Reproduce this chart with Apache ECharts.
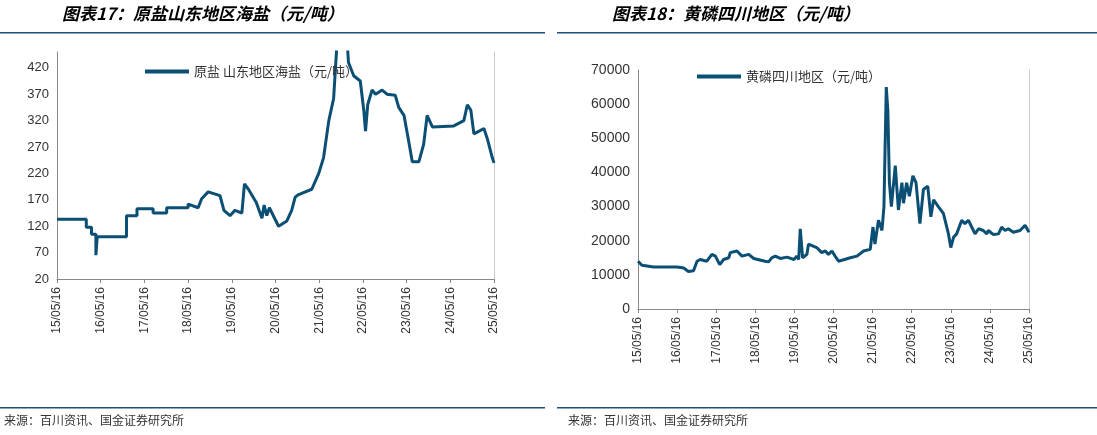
<!DOCTYPE html>
<html>
<head>
<meta charset="utf-8">
<script src="https://cdn.jsdelivr.net/npm/echarts@6/dist/echarts.min.js"></script>
<style>
  html, body { margin: 0; padding: 0; background: #fff; }
  #main { width: 1097px; height: 435px; }
</style>
</head>
<body>
<div id="main"></div>
<script>
// 原盐 山东地区海盐 (年份偏移, 元/吨)
const saltT = [0, 0.67, 0.67, 0.79, 0.79, 0.89, 0.89, 0.92, 1.59, 1.59, 1.83, 1.83, 2.20, 2.20, 2.51, 2.51, 3.00, 3.00, 3.23, 3.31, 3.46, 3.73, 3.82, 3.96, 4.07, 4.23, 4.29, 4.38, 4.56, 4.69, 4.74, 4.80, 4.86, 5.07, 5.26, 5.37, 5.45, 5.53, 5.83, 5.99, 6.10, 6.22, 6.33, 6.41, 6.64, 6.67, 6.79, 6.94, 7.02, 7.06, 7.11, 7.21, 7.29, 7.44, 7.55, 7.74, 7.82, 7.94, 8.05, 8.13, 8.28, 8.39, 8.47, 8.59, 9.08, 9.31, 9.39, 9.47, 9.54, 9.66, 9.77, 9.85, 9.96, 10]
const saltV = [133, 133, 118, 118, 105, 105, 65, 100, 100, 140, 140, 153, 153, 145, 145, 155, 155, 162, 155, 172, 185, 178, 150, 140, 150, 145, 200, 190, 165, 135, 160, 140, 155, 120, 130, 150, 175, 180, 190, 220, 250, 320, 362, 470, 470, 430, 405, 395, 340, 300, 350, 378, 370, 378, 370, 368, 345, 330, 280, 242, 242, 275, 330, 308, 310, 320, 350, 340, 295, 300, 305, 285, 250, 240]
// 黄磷 四川地区
const pT = [0, 0.10, 0.40, 1.00, 1.17, 1.29, 1.42, 1.51, 1.59, 1.76, 1.89, 1.98, 2.09, 2.19, 2.32, 2.36, 2.53, 2.66, 2.83, 2.96, 3.25, 3.34, 3.42, 3.51, 3.64, 3.81, 3.99, 4.06, 4.11, 4.15, 4.21, 4.32, 4.36, 4.57, 4.70, 4.79, 4.87, 4.96, 5.04, 5.13, 5.43, 5.60, 5.77, 5.94, 6.01, 6.06, 6.15, 6.24, 6.29, 6.35, 6.39, 6.43, 6.48, 6.58, 6.66, 6.75, 6.79, 6.87, 6.94, 7.03, 7.11, 7.21, 7.30, 7.41, 7.49, 7.56, 7.68, 7.81, 7.94, 8.00, 8.07, 8.15, 8.28, 8.36, 8.45, 8.62, 8.71, 8.83, 8.92, 8.96, 9.09, 9.22, 9.30, 9.39, 9.47, 9.60, 9.77, 9.90, 10]
const pV = [14000, 12800, 12300, 12300, 12000, 11000, 11200, 14000, 14500, 14000, 16000, 15500, 13000, 14500, 15000, 16500, 17000, 15500, 16000, 14800, 14000, 13800, 15000, 15500, 14800, 15200, 14500, 15500, 14500, 23500, 15000, 16000, 19000, 18000, 16500, 17000, 16000, 17000, 15500, 14000, 15000, 15500, 17000, 17500, 24000, 19000, 26000, 23000, 30000, 65000, 58000, 37000, 30000, 42000, 29000, 37000, 31000, 37000, 33000, 39000, 37000, 25000, 35000, 36000, 27000, 32000, 30000, 28000, 22000, 18000, 21000, 22000, 26000, 25000, 26000, 22000, 23500, 23000, 22000, 23000, 21800, 22000, 24000, 23000, 23500, 22500, 23000, 24500, 22500]
const saltTicks = [20, 70, 120, 170, 220, 270, 320, 370, 420]
const yearLabels = ['15', '16', '17', '18', '19', '20', '21', '22', '23', '24', '25']

const blue = '#0b4f75'
const chart = echarts.init(document.getElementById('main'))

function xAx(idx) {
  return {
    type: 'value', gridIndex: idx, min: 0, max: 10, interval: 1,
    axisLine: {lineStyle: {color: '#888'}},
    axisTick: {show: true, inside: false, length: 4, lineStyle: {color: '#888'}},
    splitLine: {show: false},
    axisLabel: {rotate: 90, color: '#333', fontSize: 12, fontFamily: 'Liberation Sans',
      formatter: v => yearLabels[v] + '/05/16'}
  }
}
function rightAx(idx) {
  return {type: 'value', gridIndex: idx, position: 'right', axisLine: {show: true, lineStyle: {color: '#ccc'}},
    axisTick: {show: false}, axisLabel: {show: false}, splitLine: {show: false}}
}
const legendText = {color: '#333', fontSize: 13, fontFamily: 'Noto Sans CJK SC'}

let option = {
  backgroundColor: '#fff',
  animation: false,
  grid: [
    {left: 57, right: 603, top: 52, bottom: 156},
    {left: 638, right: 68, top: 70, bottom: 126}
  ],
  legend: [
    {data: ['原盐 山东地区海盐（元/吨）'], left: 140, top: 60, icon: 'rect', itemWidth: 44, itemHeight: 4,
      itemGap: 4, textStyle: legendText},
    {data: ['黄磷四川地区（元/吨）'], left: 692, top: 65, icon: 'rect', itemWidth: 44, itemHeight: 4,
      textStyle: legendText}
  ],
  xAxis: [xAx(0), xAx(1)],
  yAxis: [
    {type: 'value', gridIndex: 0, min: 20, max: 450,
      axisLine: {show: true, lineStyle: {color: '#888'}}, axisTick: {show: false}, splitLine: {show: false},
      axisLabel: {customValues: saltTicks, color: '#333', fontSize: 13, fontFamily: 'Liberation Sans'}},
    rightAx(0),
    {type: 'value', gridIndex: 1, min: 0, max: 70000, interval: 10000,
      axisLine: {show: true, lineStyle: {color: '#888'}}, axisTick: {show: false}, splitLine: {show: false},
      axisLabel: {color: '#333', fontSize: 14, fontFamily: 'Liberation Sans', formatter: v => String(v)}},
    rightAx(1)
  ],
  series: [
    {name: '原盐 山东地区海盐（元/吨）', type: 'line', xAxisIndex: 0, yAxisIndex: 0, symbol: 'none',
      clip: true, lineStyle: {color: blue, width: 3}, itemStyle: {color: blue},
      data: saltT.map((t, i) => [t, saltV[i]])},
    {name: '黄磷四川地区（元/吨）', type: 'line', xAxisIndex: 1, yAxisIndex: 2, symbol: 'none',
      lineStyle: {color: blue, width: 3}, itemStyle: {color: blue},
      data: pT.map((t, i) => [t, pV[i]])}
  ],
  graphic: [
    {type: 'text', left: 62, top: 5, style: {text: '图表17：原盐山东地区海盐（元/吨）', font: 'italic bold 17px "Noto Sans CJK SC"', fill: '#000'}},
    {type: 'text', left: 612, top: 5, style: {text: '图表18：黄磷四川地区（元/吨）', font: 'italic bold 17px "Noto Sans CJK SC"', fill: '#000'}},
    {type: 'rect', shape: {x: 0, y: 32, width: 545, height: 1.5}, style: {fill: '#1f4e79'}},
    {type: 'rect', shape: {x: 557, y: 32, width: 540, height: 1.5}, style: {fill: '#1f4e79'}},
    {type: 'rect', shape: {x: 0, y: 407, width: 545, height: 1.5}, style: {fill: '#1f4e79'}},
    {type: 'rect', shape: {x: 557, y: 407, width: 540, height: 1.5}, style: {fill: '#1f4e79'}},
    {type: 'text', left: 4, top: 414, style: {text: '来源：百川资讯、国金证券研究所', font: '12px "Noto Sans CJK SC"', fill: '#333'}},
    {type: 'text', left: 568, top: 414, style: {text: '来源：百川资讯、国金证券研究所', font: '12px "Noto Sans CJK SC"', fill: '#333'}}
  ]
}
chart.setOption(option)
</script>
</body>
</html>
